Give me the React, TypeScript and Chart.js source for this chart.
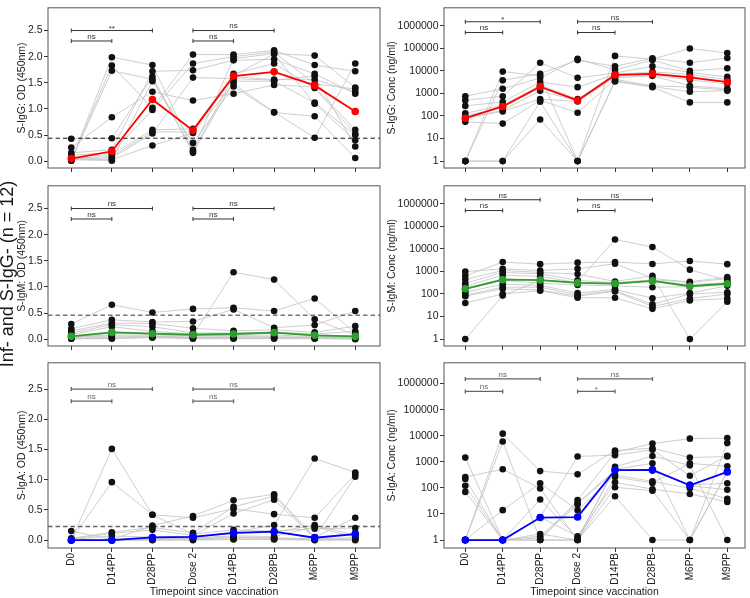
import React, { useEffect, useRef } from 'react';
import { Chart, registerables } from 'chart.js';

Chart.register(...registerables);

// ---------- categories & ticks ----------
const timepoints = ['D0', 'D14PP', 'D28PP', 'Dose 2', 'D14PB', 'D28PB', 'M6PP', 'M9PP'];
const odTicks = [0, 0.5, 1, 1.5, 2, 2.5];
const odTickLabels = ['0.0', '0.5', '1.0', '1.5', '2.0', '2.5'];
const concTicks = [1, 10, 100, 1000, 10000, 100000, 1000000];
const concTickLabels = ['1', '10', '100', '1000', '10000', '100000', '1000000'];

// ---------- S-IgG OD (12 subjects x 8 timepoints) ----------
const iggOd = [
  [0.01, 1.99, 1.84, 0.22, 1.96, 2.06, 2.02, 1.41],
  [0.02, 1.83, 1.02, 2.04, 2.04, 2.12, 1.84, 1.72],
  [0.01, 1.73, 1.57, 0.19, 1.62, 1.56, 1.56, 1.33],
  [0.26, 0.84, 1.33, 1.16, 1.29, 1.46, 1.42, 0.6],
  [0.43, 0.44, 1.62, 0.16, 1.53, 1.53, 1.12, 0.5],
  [0.16, 0.22, 1.72, 1.74, 1.93, 1.95, 1.67, 1.29],
  [0.12, 0.16, 0.98, 1.87, 2.0, 2.09, 1.48, 1.38],
  [0.08, 0.13, 0.6, 0.62, 1.67, 1.87, 1.4, 0.52],
  [0.06, 0.09, 0.56, 0.56, 1.64, 2.05, 1.1, 0.4],
  [0.05, 0.06, 0.53, 1.6, 1.58, 1.55, 1.63, 0.28],
  [0.04, 0.03, 0.3, 0.54, 1.48, 0.94, 0.45, 1.87],
  [0.03, 0.01, 1.53, 0.35, 1.43, 0.93, 0.86, 0.06],
];
const iggOdMedian = [0.05, 0.19, 1.18, 0.59, 1.63, 1.71, 1.45, 0.95];
const iggOdCutoff = 0.44;
const iggOdSig = ['ns', '**', 'ns', 'ns'];

// ---------- S-IgG Conc ----------
const iggConc = [
  [1, 9300, 6000, 1, 46000, 33000, 98000, 62000],
  [1, 3800, 7500, 30000, 16000, 36000, 23000, 37000],
  [750, 1600, 4800, 34000, 11000, 30000, 10000, 13000],
  [500, 750, 23000, 4900, 8000, 16000, 8500, 5400],
  [280, 420, 3200, 1900, 7000, 9000, 7000, 4000],
  [130, 300, 2300, 560, 6800, 7600, 5500, 3300],
  [100, 240, 1800, 510, 6400, 7200, 4800, 3100],
  [80, 180, 1300, 470, 5800, 6500, 4000, 2600],
  [80, 160, 560, 440, 5000, 6000, 2200, 1600],
  [55, 46, 500, 140, 4200, 2200, 1900, 1400],
  [1, 1, 430, 1, 3600, 2000, 1200, 1300],
  [1, 1, 70, 1, 3400, 1900, 400, 400],
];
const iggConcMedian = [80, 265, 2000, 490, 6600, 7400, 5100, 3200];
const iggConcSig = ['ns', '*', 'ns', 'ns'];

// ---------- S-IgM OD ----------
const igmOd = [
  [0.29, 0.66, 0.51, 0.58, 0.6, 0.54, 0.78, 0.12],
  [0.2, 0.37, 0.33, 0.34, 0.57, 0.22, 0.27, 0.54],
  [0.03, 0.12, 0.1, 0.08, 1.28, 1.14, 0.38, 0.08],
  [0.16, 0.31, 0.3, 0.21, 0.16, 0.18, 0.13, 0.25],
  [0.12, 0.28, 0.24, 0.12, 0.12, 0.13, 0.1, 0.15],
  [0.09, 0.24, 0.15, 0.1, 0.11, 0.14, 0.08, 0.06],
  [0.06, 0.14, 0.11, 0.09, 0.09, 0.12, 0.07, 0.05],
  [0.05, 0.08, 0.08, 0.06, 0.07, 0.08, 0.05, 0.04],
  [0.04, 0.06, 0.06, 0.04, 0.05, 0.05, 0.04, 0.03],
  [0.02, 0.04, 0.05, 0.03, 0.03, 0.03, 0.03, 0.02],
  [0.01, 0.02, 0.04, 0.02, 0.02, 0.02, 0.02, 0.01],
  [0.01, 0.01, 0.03, 0.01, 0.01, 0.01, 0.01, 0.0],
];
const igmOdMedian = [0.055, 0.13, 0.105, 0.085, 0.1, 0.125, 0.075, 0.055];
const igmOdCutoff = 0.46;
const igmOdSig = ['ns', 'ns', 'ns', 'ns'];

// ---------- S-IgM Conc ----------
const igmConc = [
  [640, 2600, 2100, 2450, 2600, 2150, 2900, 2100],
  [980, 1300, 1100, 1300, 2200, 500, 320, 480],
  [1, 85, 400, 350, 26000, 12000, 1200, 400],
  [440, 1100, 900, 760, 360, 640, 1, 45],
  [300, 900, 780, 400, 320, 420, 350, 560],
  [220, 690, 600, 320, 300, 390, 260, 320],
  [180, 460, 430, 300, 280, 370, 230, 300],
  [160, 400, 300, 250, 230, 200, 210, 270],
  [120, 270, 240, 110, 160, 65, 110, 230],
  [90, 200, 200, 90, 140, 35, 100, 118],
  [80, 170, 150, 80, 130, 28, 63, 100],
  [40, 100, 140, 68, 68, 22, 52, 63],
];
const igmConcMedian = [170, 430, 415, 310, 290, 380, 220, 285];
const igmConcSig = ['ns', 'ns', 'ns', 'ns'];

// ---------- S-IgA OD ----------
const igaOd = [
  [0, 1.51, 0.42, 0.1, 0.17, 0.15, 0.19, 0.2],
  [0.01, 0.96, 0.42, 0.37, 0.52, 0.43, 0.37, 1.09],
  [0.15, 0.01, 0.24, 0.4, 0.66, 0.76, 0.05, 0.37],
  [0.03, 0.13, 0.21, 0.12, 0.55, 0.73, 0.04, 1.05],
  [0.02, 0.11, 0.17, 0.08, 0.44, 0.67, 0.03, 0.12],
  [0.01, 0.07, 0.05, 0.06, 0.13, 0.25, 1.35, 1.12],
  [0.005, 0.005, 0.04, 0.05, 0.11, 0.13, 0.25, 0.08],
  [0, 0, 0.03, 0.04, 0.07, 0.06, 0.22, 0.05],
  [0, 0, 0.02, 0.03, 0.05, 0.04, 0.02, 0.04],
  [0, 0, 0.01, 0.02, 0.04, 0.03, 0.01, 0.02],
  [0, 0, 0.005, 0.01, 0.02, 0.02, 0.005, 0.01],
  [0, 0, 0, 0, 0.01, 0.01, 0, 0],
];
const igaOdMedian = [0.0, 0.0, 0.045, 0.055, 0.12, 0.14, 0.04, 0.1];
const igaOdCutoff = 0.225;
const igaOdSig = ['ns', 'ns', 'ns', 'ns'];

// ---------- S-IgA Conc ----------
const igaConc = [
  [1, 12000, 440, 330, 2700, 3300, 1450, 1600],
  [1, 6000, 1, 34, 2300, 5000, 7700, 8100],
  [1450, 1, 1.7, 1, 260, 155, 870, 670],
  [260, 520, 95, 1, 640, 1660, 730, 1],
  [220, 1, 36, 1.2, 520, 870, 1, 5200],
  [120, 1, 1.4, 27, 480, 460, 130, 150],
  [70, 1, 1.2, 23, 460, 500, 120, 85],
  [1, 14, 150, 14, 310, 177, 97, 38],
  [1, 1, 7.5, 1600, 1800, 2900, 290, 1700],
  [1, 1, 7.5, 1.4, 163, 89, 58, 29],
  [1, 1, 1, 1, 105, 78, 1, 420],
  [1, 1, 1, 1, 48, 1, 1, 410],
];
const igaConcMedian = [1, 1, 7.3, 7.6, 480, 490, 125, 410];
const igaConcSig = ['ns', 'ns', '*', 'ns'];

// ---------- comparison brackets (timepoint indices) ----------
const bracketFrom = [0, 0, 3, 3];
const bracketTo = [1, 2, 4, 5];
const odBracketY = [2.3, 2.5, 2.3, 2.5];
const concBracketY = [5e5, 1.5e6, 5e5, 1.5e6];

// ---------- layout / style ----------
const FONT = '"Liberation Sans", Arial, Helvetica, sans-serif';
const RED = '#ff0000';
const GREEN = '#2ca02c';
const BLUE = '#0000ff';

const colLeft = [0, 384];
const colWidth = [384, 366];
const colYWidth = [48, 60];
const colPadRight = [4, 5];
const colXMin = [-0.574, -0.569];
const colXMax = [7.61, 7.473];
const colTitlePad = [16.2, 2.2];

const rowTop = [0, 178, 355];
const rowHeight = [178, 178, 243];
const rowXHeight = [10, 10, 50];
const rowDash = ['#111111', '#333333', '#666666'];
const rowDashWidth = [1, 1, 1.4];
const rowBracket = ['#333333', '#333333', '#666666'];
const rowBracketWidth = [1, 1, 1.3];

const OD_MIN = -0.13;
const OD_MAX = 2.935;
const LOG_MIN = Math.pow(10, -0.305);
const LOG_MAX = Math.pow(10, 6.795);

type PanelCfg = {
  row: number;
  col: number;
  log: boolean;
  title: string;
  subjects: number[][];
  median: number[];
  color: string;
  cutoff: number | null;
  sig: string[];
};

const panels: PanelCfg[] = [
  { row: 0, col: 0, log: false, title: 'S-IgG: OD (450nm)', subjects: iggOd, median: iggOdMedian, color: RED, cutoff: iggOdCutoff, sig: iggOdSig },
  { row: 0, col: 1, log: true, title: 'S-IgG: Conc (ng/ml)', subjects: iggConc, median: iggConcMedian, color: RED, cutoff: null, sig: iggConcSig },
  { row: 1, col: 0, log: false, title: 'S-IgM: OD (450nm)', subjects: igmOd, median: igmOdMedian, color: GREEN, cutoff: igmOdCutoff, sig: igmOdSig },
  { row: 1, col: 1, log: true, title: 'S-IgM: Conc (ng/ml)', subjects: igmConc, median: igmConcMedian, color: GREEN, cutoff: null, sig: igmConcSig },
  { row: 2, col: 0, log: false, title: 'S-IgA: OD (450nm)', subjects: igaOd, median: igaOdMedian, color: BLUE, cutoff: igaOdCutoff, sig: igaOdSig },
  { row: 2, col: 1, log: true, title: 'S-IgA: Conc (ng/ml)', subjects: igaConc, median: igaConcMedian, color: BLUE, cutoff: null, sig: igaConcSig },
];

const panelDecor = {
  id: 'panelDecor',
  afterDatasetsDraw(chart: any, _args: any, opts: any) {
    const { ctx, chartArea: a, scales } = chart;
    ctx.save();
    const bys: number[] = opts.bracketY || [];
    bys.forEach((by, i) => {
      const x1 = scales.x.getPixelForValue(bracketFrom[i]);
      const x2 = scales.x.getPixelForValue(bracketTo[i]);
      const y = scales.y.getPixelForValue(by);
      ctx.strokeStyle = opts.color;
      ctx.lineWidth = opts.width;
      ctx.beginPath();
      ctx.moveTo(x1, y);
      ctx.lineTo(x2, y);
      ctx.moveTo(x1, y - 2);
      ctx.lineTo(x1, y + 2);
      ctx.moveTo(x2, y - 2);
      ctx.lineTo(x2, y + 2);
      ctx.stroke();
      const label: string = opts.sig[i];
      ctx.fillStyle = opts.color;
      ctx.font = `8px ${FONT}`;
      ctx.textAlign = 'center';
      ctx.textBaseline = 'alphabetic';
      ctx.fillText(label, (x1 + x2) / 2, label.includes('*') ? y + 0.5 : y - 2.2);
    });
    ctx.strokeStyle = '#555555';
    ctx.lineWidth = 1;
    ctx.strokeRect(a.left, a.top, a.right - a.left, a.bottom - a.top);
    ctx.restore();
  },
};

function buildConfig(p: PanelCfg): any {
  const xMin = colXMin[p.col];
  const xMax = colXMax[p.col];
  const datasets: any[] = [];

  p.subjects.forEach((s) => {
    datasets.push({
      data: s.map((v, i) => ({ x: i, y: v })),
      borderColor: '#c2c2c2',
      borderWidth: 0.8,
      pointRadius: 0,
      fill: false,
      tension: 0,
      order: 3,
    });
  });

  if (p.cutoff !== null) {
    datasets.push({
      data: [
        { x: xMin, y: p.cutoff },
        { x: xMax, y: p.cutoff },
      ],
      borderColor: rowDash[p.row],
      borderWidth: rowDashWidth[p.row],
      borderDash: [4.5, 3],
      pointRadius: 0,
      fill: false,
      order: 2,
    });
  }

  const pts: { x: number; y: number }[] = [];
  p.subjects.forEach((s) => s.forEach((v, i) => pts.push({ x: i, y: v })));
  datasets.push({
    data: pts,
    showLine: false,
    pointRadius: 3.3,
    pointBackgroundColor: '#111111',
    pointBorderWidth: 0,
    order: 1,
  });

  datasets.push({
    data: p.median.map((v, i) => ({ x: i, y: v })),
    borderColor: p.color,
    borderWidth: 1.8,
    pointRadius: 3.8,
    pointBackgroundColor: p.color,
    pointBorderWidth: 0,
    fill: false,
    tension: 0,
    order: 0,
  });

  const isBottom = p.row === 2;
  const yTicks = p.log ? concTicks : odTicks;
  const yLabels = p.log ? concTickLabels : odTickLabels;

  return {
    type: 'line',
    data: { datasets },
    plugins: [panelDecor],
    options: {
      animation: false,
      responsive: false,
      events: [],
      layout: { padding: { left: 0, right: colPadRight[p.col], top: 1, bottom: 0 } },
      plugins: {
        legend: { display: false },
        tooltip: { enabled: false },
        panelDecor: {
          bracketY: p.log ? concBracketY : odBracketY,
          sig: p.sig,
          color: rowBracket[p.row],
          width: rowBracketWidth[p.row],
        },
      },
      scales: {
        x: {
          type: 'linear',
          min: xMin,
          max: xMax,
          bounds: 'data',
          afterBuildTicks: (scale: any) => {
            scale.ticks = timepoints.map((_, i) => ({ value: i }));
          },
          afterFit: (scale: any) => {
            scale.height = rowXHeight[p.row];
          },
          grid: {
            display: true,
            drawOnChartArea: false,
            drawTicks: true,
            tickLength: 4,
            color: '#333333',
            lineWidth: 1,
          },
          border: { display: false },
          ticks: {
            display: isBottom,
            autoSkip: false,
            minRotation: 90,
            maxRotation: 90,
            padding: 1,
            color: '#222222',
            font: { family: FONT, size: 10 },
            callback: (v: number) => timepoints[Math.round(v)] ?? '',
          },
          title: {
            display: isBottom,
            text: 'Timepoint since vaccination',
            color: '#1a1a1a',
            font: { family: FONT, size: 10.5 },
            padding: { top: 0, bottom: 0 },
          },
        },
        y: {
          type: p.log ? 'logarithmic' : 'linear',
          min: p.log ? LOG_MIN : OD_MIN,
          max: p.log ? LOG_MAX : OD_MAX,
          bounds: 'data',
          afterBuildTicks: (scale: any) => {
            scale.ticks = yTicks.map((v) => ({ value: v }));
          },
          afterFit: (scale: any) => {
            scale.width = colYWidth[p.col];
          },
          grid: {
            display: true,
            drawOnChartArea: false,
            drawTicks: true,
            tickLength: 4,
            color: '#333333',
            lineWidth: 1,
          },
          border: { display: false },
          ticks: {
            autoSkip: false,
            padding: 1.5,
            color: '#222222',
            font: { family: FONT, size: 10.5 },
            callback: (v: number) => {
              const idx = yTicks.findIndex((t) => Math.abs(t - v) < 1e-9 * Math.max(1, t));
              return idx >= 0 ? yLabels[idx] : '';
            },
          },
          title: {
            display: true,
            text: p.title,
            color: '#1a1a1a',
            font: { family: FONT, size: 10.5 },
            padding: { top: colTitlePad[p.col], bottom: 0 },
          },
        },
      },
    },
  };
}

function Panel({ p }: { p: PanelCfg }) {
  const ref = useRef<HTMLCanvasElement>(null);
  const w = colWidth[p.col];
  const h = rowHeight[p.row];
  useEffect(() => {
    if (!ref.current) return;
    const chart = new Chart(ref.current, buildConfig(p));
    return () => chart.destroy();
  }, []);
  return (
    <canvas
      ref={ref}
      width={w}
      height={h}
      style={{ position: 'absolute', left: colLeft[p.col], top: rowTop[p.row], width: w, height: h }}
    />
  );
}

export default function App() {
  return (
    <div
      style={{
        position: 'absolute',
        left: 0,
        top: 0,
        width: 750,
        height: 598,
        background: '#ffffff',
        overflow: 'hidden',
      }}
    >
      {panels.map((p, i) => (
        <Panel key={i} p={p} />
      ))}
      <div
        style={{
          position: 'absolute',
          left: 7 - 150,
          top: 274 - 11,
          width: 300,
          height: 22,
          lineHeight: '22px',
          textAlign: 'center',
          transform: 'rotate(-90deg)',
          fontFamily: FONT,
          fontSize: 18,
          color: '#1a1a1a',
          whiteSpace: 'nowrap',
        }}
      >
        Inf- and S-IgG- (n = 12)
      </div>
    </div>
  );
}
